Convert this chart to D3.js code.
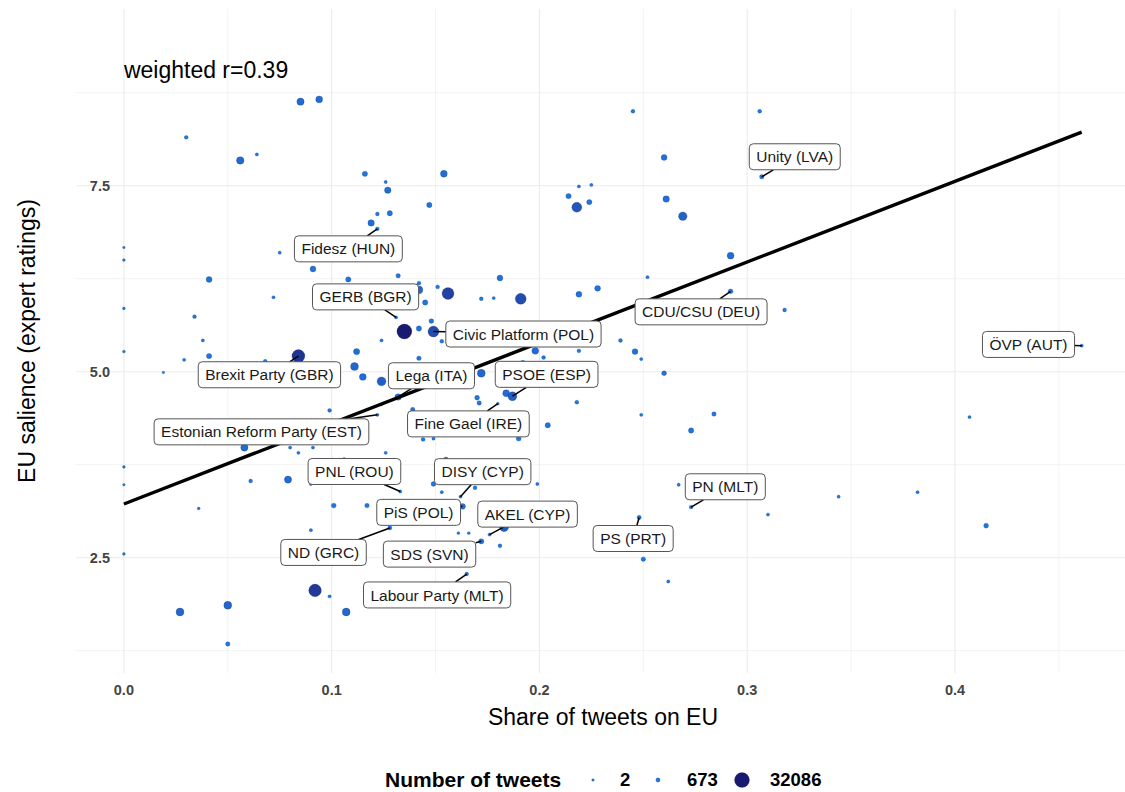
<!DOCTYPE html>
<html lang="en">
<head>
  <meta charset="UTF-8">
  <meta name="viewport" content="width=device-width, initial-scale=1.0">
  <title>EU salience and share of tweets on EU</title>
  <style>
    body { margin: 0; background: #fff; }
    svg { display: block; font-family: "Liberation Sans", Arial, sans-serif; }
  </style>
</head>
<body>
  <script src="https://cdn.jsdelivr.net/npm/d3@7"></script>
  <script>
    // one entry per party
    const shareEU = [
      0.085, 0.094, 0.030, 0.056, 0.064, 0.116, 0.126, 0.127, 0.122, 0.128,
      0.119, 0.122, 0.000, 0.000, 0.075, 0.091, 0.041, 0.108, 0.132, 0.072,
      0.154, 0.147, 0.245, 0.306, 0.260, 0.307, 0.219, 0.225, 0.214, 0.218,
      0.224, 0.261, 0.269, 0.292, 0.181, 0.252, 0.292, 0.191, 0.219, 0.228,
      0.318, 0.239, 0.219, 0.246, 0.249, 0.198, 0.202, 0.260, 0.192, 0.000,
      0.142, 0.142, 0.151, 0.156, 0.145, 0.172, 0.178, 0.034, 0.131, 0.148,
      0.135, 0.142, 0.149, 0.153, 0.124, 0.038, 0.000, 0.029, 0.041, 0.084,
      0.068, 0.112, 0.142, 0.111, 0.115, 0.124, 0.019, 0.172, 0.184, 0.187,
      0.170, 0.171, 0.180, 0.132, 0.124, 0.099, 0.122, 0.204, 0.144, 0.149,
      0.190, 0.139, 0.218, 0.058, 0.080, 0.084, 0.091, 0.126, 0.106, 0.000,
      0.000, 0.061, 0.079, 0.090, 0.133, 0.149, 0.153, 0.155, 0.169, 0.162,
      0.163, 0.199, 0.036, 0.101, 0.117, 0.128, 0.090, 0.161, 0.166, 0.172,
      0.176, 0.183, 0.181, 0.000, 0.165, 0.092, 0.099, 0.027, 0.050, 0.107,
      0.050, 0.249, 0.284, 0.273, 0.407, 0.267, 0.273, 0.248, 0.310, 0.344,
      0.382, 0.415, 0.250, 0.262, 0.461
    ];
    const salience = [
      8.63, 8.66, 8.15, 7.84, 7.92, 7.66, 7.55, 7.44, 7.12, 7.13,
      7.00, 6.92, 6.67, 6.50, 6.60, 6.38, 6.24, 6.24, 6.29, 6.00,
      7.66, 7.24, 8.50, 8.50, 7.88, 7.62, 7.49, 7.51, 7.36, 7.21,
      7.28, 7.32, 7.09, 6.56, 6.26, 6.27, 6.08, 5.98, 6.04, 6.12,
      5.83, 5.42, 5.28, 5.27, 5.17, 5.28, 5.19, 4.98, 5.12, 5.85,
      6.19, 6.10, 6.14, 6.05, 5.93, 5.98, 5.99, 5.74, 5.73, 5.68,
      5.54, 5.58, 5.54, 5.41, 5.42, 5.42, 5.27, 5.16, 5.21, 5.21,
      5.14, 5.27, 5.18, 5.07, 4.93, 4.87, 4.99, 4.98, 4.71, 4.67,
      4.65, 4.58, 4.57, 4.66, 4.56, 4.48, 4.42, 4.28, 4.09, 4.10,
      4.10, 4.49, 4.59, 3.98, 3.98, 3.91, 3.98, 3.91, 3.82, 3.72,
      3.48, 3.53, 3.55, 3.49, 3.39, 3.49, 3.38, 3.82, 3.44, 3.32,
      3.19, 3.49, 3.16, 3.20, 3.20, 2.90, 2.87, 2.83, 2.83, 2.72,
      2.81, 2.91, 2.66, 2.55, 2.28, 2.06, 1.98, 1.77, 1.86, 1.77,
      1.34, 4.42, 4.43, 4.21, 4.39, 3.48, 3.18, 3.04, 3.08, 3.32,
      3.38, 2.93, 2.48, 2.18, 5.35
    ];
    const nTweets = [
      4800, 4000, 410, 5200, 135, 1640, 135, 3340, 410, 1640,
      3340, 410, 2, 35, 135, 2400, 2400, 1640, 840, 135,
      4000, 1640, 410, 410, 2400, 840, 135, 135, 1640, 11400,
      1640, 3340, 7500, 4000, 2400, 135, 1200, 14700, 2400, 2400,
      410, 410, 410, 2400, 135, 4000, 410, 1200, 1200, 35,
      410, 6000, 410, 18400, 1640, 410, 135, 410, 135, 1200,
      32086, 1640, 14700, 410, 135, 135, 35, 135, 1640, 22500,
      410, 3000, 840, 6000, 4000, 8500, 2, 6000, 4000, 8500,
      1200, 840, 35, 3340, 35, 410, 135, 1640, 410, 135,
      1200, 840, 410, 4800, 135, 135, 135, 135, 410, 35,
      2, 410, 4800, 135, 135, 1200, 135, 1200, 410, 135,
      2400, 135, 35, 1200, 840, 680, 135, 35, 35, 1640,
      135, 8500, 410, 35, 410, 20900, 135, 6000, 6000, 6000,
      840, 135, 840, 1640, 135, 135, 410, 680, 135, 135,
      135, 1200, 840, 135, 135
    ];

    const labelParties = [
      'Unity (LVA)', 'Fidesz (HUN)', 'GERB (BGR)', 'Civic Platform (POL)',
      'Brexit Party (GBR)', 'Lega (ITA)', 'PSOE (ESP)', 'Fine Gael (IRE)',
      'Estonian Reform Party (EST)', 'PNL (ROU)', 'DISY (CYP)', 'PiS (POL)',
      'AKEL (CYP)', 'ND (GRC)', 'SDS (SVN)', 'Labour Party (MLT)',
      'PN (MLT)', 'PS (PRT)', 'CDU/CSU (DEU)', 'ÖVP (AUT)'
    ];
    // index of the labelled party in the arrays above
    const labelPoint = [25, 11, 58, 62, 69, 83, 79, 82, 86, 104, 109, 110, 120, 115, 119, 124, 136, 137, 36, 144];

    const xTicks = [0, 0.1, 0.2, 0.3, 0.4];
    const yTicks = [2.5, 5.0, 7.5];
    const legendBreaks = [2, 673, 32086];
    const fitIntercept = 3.222, fitSlope = 10.84;
    const corrText = 'weighted r=0.39';

    // repelled label boxes: centre relative to the point, px
    const labelOffset = [
      [33, -20], [-29, 20], [-30.5, -20.5], [90, 2.5], [-29, 18.7], [33.3, -21.2],
      [34.2, -21.9], [-29.5, 20.2], [-115.9, 17], [-45.8, -20], [22.2, -25],
      [-43.9, 6], [38, -20.5], [-66.3, 24.5], [-51.7, 12.8], [-29.6, 20.9],
      [34.2, -20.3], [-6, 21], [-29.5, 20.5], [-53.2, -1.2]
    ];

    function scatterChart(){
      const _chart = {};
      const _width = 1125, _height = 792;
      const _panel = {left: 76, right: 1129.6, top: 9, bottom: 673};
      const _grid = '#ebebeb';
      const _edge = 'rgba(10,30,90,0.35)';
      let _svg;

      const x = d3.scaleLinear().domain([-0.02305, 0.48405]).range([_panel.left, _panel.right]);
      const y = d3.scaleLinear().domain([0.95, 9.875]).range([_panel.bottom, _panel.top]);
      const r = d3.scaleSqrt().domain(d3.extent(legendBreaks)).range([1.3, 7.5]);
      const colour = d3.scaleLinear().domain(d3.extent(legendBreaks))
        .range(['#1e7ae6', '#191970']).interpolate(d3.interpolateLab);

      const points = shareEU.map((v, i) => ({x: v, y: salience[i], n: nTweets[i]}));

      _chart.render = function(){
        _svg = d3.select('body').append('svg')
          .attr('width', _width)
          .attr('height', _height);
        renderGrid();
        renderPoints();
        renderFit();
        renderLabels();
        renderAxes();
        renderLegend();
      };

      function minorOf(ticks, domain){
        const step = ticks[1] - ticks[0];
        const out = [];
        for(let v = ticks[0] - step / 2; v < domain[1]; v += step){
          if(v > domain[0]) out.push(v);
        }
        return out;
      }

      function renderGrid(){
        const g = _svg.append('g').attr('class', 'grid');
        const xd = x.domain(), yd = y.domain();
        g.selectAll('line.xminor').data(minorOf(xTicks, xd)).enter().append('line')
          .attr('x1', d => x(d)).attr('x2', d => x(d))
          .attr('y1', _panel.top).attr('y2', _panel.bottom)
          .attr('stroke', _grid).attr('stroke-width', 0.6);
        g.selectAll('line.yminor').data(minorOf(yTicks, yd)).enter().append('line')
          .attr('y1', d => y(d)).attr('y2', d => y(d))
          .attr('x1', _panel.left).attr('x2', _panel.right)
          .attr('stroke', _grid).attr('stroke-width', 0.6);
        g.selectAll('line.xmajor').data(xTicks).enter().append('line')
          .attr('x1', d => x(d)).attr('x2', d => x(d))
          .attr('y1', _panel.top).attr('y2', _panel.bottom)
          .attr('stroke', _grid).attr('stroke-width', 1.1);
        g.selectAll('line.ymajor').data(yTicks).enter().append('line')
          .attr('y1', d => y(d)).attr('y2', d => y(d))
          .attr('x1', _panel.left).attr('x2', _panel.right)
          .attr('stroke', _grid).attr('stroke-width', 1.1);
      }

      function renderPoints(){
        _svg.append('g').attr('class', 'points')
          .selectAll('circle').data(points).enter().append('circle')
          .attr('cx', d => x(d.x))
          .attr('cy', d => y(d.y))
          .attr('r', d => r(d.n))
          .attr('fill', d => colour(d.n))
          .attr('stroke', _edge)
          .attr('stroke-width', 0.6);
      }

      function renderFit(){
        const [x0, x1] = d3.extent(shareEU);
        const line = d3.line().x(d => x(d)).y(d => y(fitIntercept + fitSlope * d));
        _svg.append('path')
          .attr('d', line([x0, x1]))
          .attr('fill', 'none')
          .attr('stroke', '#000')
          .attr('stroke-width', 3.4);

        _svg.append('text')
          .attr('x', x(0))
          .attr('y', y(9.05))
          .attr('dy', '0.35em')
          .attr('font-size', 23)
          .attr('fill', '#000')
          .text(corrText);
      }

      function renderLabels(){
        const g = _svg.append('g').attr('class', 'labels');
        const segs = g.append('g');
        const boxes = g.append('g');
        labelParties.forEach((name, i) => {
          const p = points[labelPoint[i]];
          const px = x(p.x), py = y(p.y);
          const cx = px + labelOffset[i][0], cy = py + labelOffset[i][1];
          const lab = boxes.append('g');
          const rect = lab.append('rect');
          const txt = lab.append('text')
            .attr('x', cx).attr('y', cy).attr('dy', '0.36em')
            .attr('text-anchor', 'middle')
            .attr('font-size', 15.5)
            .attr('fill', '#1a1a1a')
            .text(name);
          const w = txt.node().getComputedTextLength() + 14, h = 26;
          rect.attr('x', cx - w / 2).attr('y', cy - h / 2)
            .attr('width', w).attr('height', h)
            .attr('rx', 4).attr('ry', 4)
            .attr('fill', '#fff')
            .attr('stroke', '#555')
            .attr('stroke-width', 1);

          // segment from the point to where the line to the box centre meets the border
          const dx = cx - px, dy = cy - py;
          const tEdge = Math.max(
            dx === 0 ? -Infinity : (Math.abs(dx) - w / 2) / Math.abs(dx),
            dy === 0 ? -Infinity : (Math.abs(dy) - h / 2) / Math.abs(dy)
          );
          if(tEdge > 0){
            segs.append('line')
              .attr('x1', px).attr('y1', py)
              .attr('x2', px + dx * tEdge).attr('y2', py + dy * tEdge)
              .attr('stroke', '#000')
              .attr('stroke-width', 1.5);
          }
        });
      }

      function renderAxes(){
        const fmt = d3.format('.1f');
        const g = _svg.append('g').attr('class', 'axes')
          .attr('fill', '#444').attr('font-size', 14.5).attr('font-weight', 'bold');
        g.selectAll('text.xt').data(xTicks).enter().append('text')
          .attr('x', d => x(d)).attr('y', 690).attr('dy', '0.35em')
          .attr('text-anchor', 'middle')
          .text(d => fmt(d));
        g.selectAll('text.yt').data(yTicks).enter().append('text')
          .attr('x', 110).attr('y', d => y(d)).attr('dy', '0.35em')
          .attr('text-anchor', 'end')
          .text(d => fmt(d));

        _svg.append('text')
          .attr('x', 603).attr('y', 717).attr('dy', '0.35em')
          .attr('text-anchor', 'middle')
          .attr('font-size', 23)
          .text('Share of tweets on EU');
        _svg.append('text')
          .attr('transform', `translate(27,${(_panel.top + _panel.bottom) / 2}) rotate(-90)`)
          .attr('dy', '0.35em')
          .attr('text-anchor', 'middle')
          .attr('font-size', 23)
          .text('EU salience (expert ratings)');
      }

      function renderLegend(){
        const g = _svg.append('g').attr('class', 'legend').attr('font-weight', 'bold');
        const keyX = [593, 658, 742], textX = [620, 687, 770], cy = 780;
        g.append('text')
          .attr('x', 385).attr('y', cy).attr('dy', '0.35em')
          .attr('font-size', 21)
          .text('Number of tweets');
        g.selectAll('circle').data(legendBreaks).enter().append('circle')
          .attr('cx', (d, i) => keyX[i]).attr('cy', cy)
          .attr('r', d => r(d))
          .attr('fill', d => colour(d))
          .attr('stroke', _edge)
          .attr('stroke-width', 0.6);
        g.selectAll('text.lab').data(legendBreaks).enter().append('text')
          .attr('x', (d, i) => textX[i]).attr('y', cy).attr('dy', '0.35em')
          .attr('font-size', 18.5)
          .text(d => d);
      }

      return _chart;
    }

    scatterChart().render();
  </script>
</body>
</html>
